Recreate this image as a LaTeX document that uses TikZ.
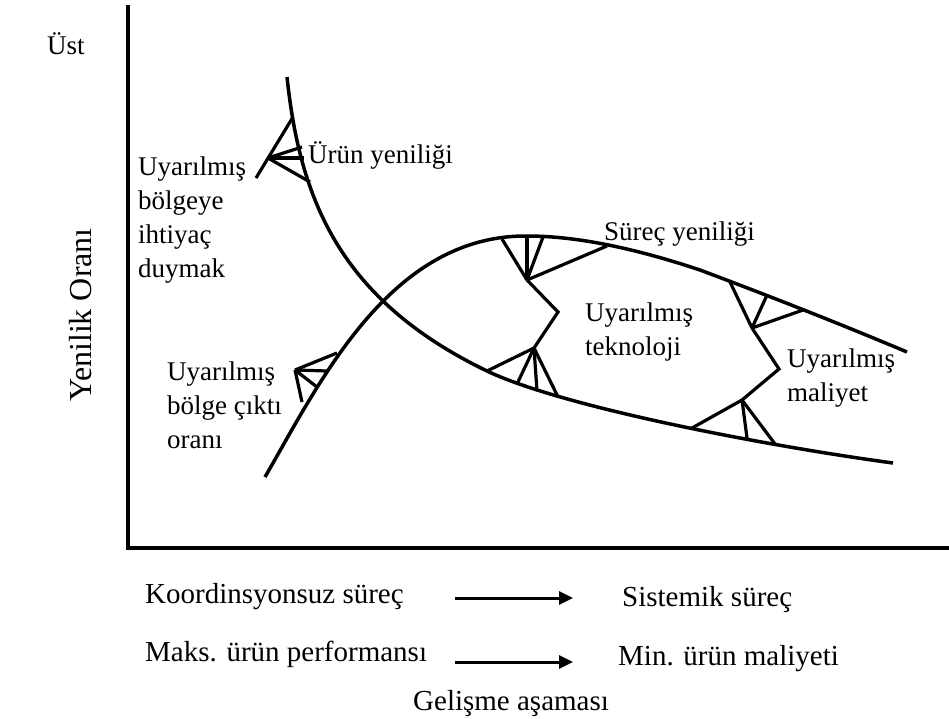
\documentclass[tikz,border=0pt]{standalone}
\usepackage{fontspec}
\setmainfont{Liberation Serif}
\usetikzlibrary{arrows.meta}
\begin{document}
\begin{tikzpicture}[x=1pt,y=-1pt,
  curve/.style={line width=3.5pt},
  axisline/.style={line width=4.5pt, line join=miter},
  tick/.style={line width=3.2pt},
  lbl/.style={font=\fontsize{27}{34}\selectfont, inner sep=0pt, align=left},
  blbl/.style={font=\fontsize{29}{34}\selectfont, inner sep=0pt},
  flow/.style={line width=3pt, -{Triangle[length=14pt,width=13pt]}}]
\useasboundingbox (0,0) rectangle (949,718);

% axes
\coordinate (ytop) at (128,5);
\coordinate (origin) at (128,548);
\coordinate (xend) at (949,548);
\draw[axisline] (ytop) -- (origin) -- (xend);

% curves
\coordinate (pc0) at (287,77);
\coordinate (pc1) at (487,371);
\coordinate (pc2) at (893,463);
\draw[curve] (pc0) .. controls (300,200) and (340,300) .. (pc1)
                   .. controls (560,406) and (760,445) .. (pc2);
\coordinate (sc0) at (265,477);
\coordinate (sc1) at (527,236);
\coordinate (sc2) at (700,270);
\coordinate (sc3) at (907,352);
\draw[curve] (sc0) .. controls (320,382) and (390,235) .. (sc1)
                   .. controls (580,236) and (640,250) .. (sc2)
                   .. controls (780,300) and (850,328) .. (sc3);

% mark 1 (product innovation)
\coordinate (A1) at (293,117);
\coordinate (E1) at (256,178);
\coordinate (P1) at (268,158);
\coordinate (A2) at (302,147);
\coordinate (A3) at (304,158);
\coordinate (A4) at (310,182);
\draw[tick] (A1) -- (E1);
\draw[tick] (P1) -- (A2);
\draw[tick] (P1) -- (A3);
\draw[tick] (P1) -- (A4);

% mark 2 (output rate)
\coordinate (P2) at (295,370);
\coordinate (B1) at (337,353);
\coordinate (B2) at (327,371);
\coordinate (B3) at (317,387);
\coordinate (S2) at (302,402);
\draw[tick] (P2) -- (B1);
\draw[tick] (P2) -- (B2);
\draw[tick] (P2) -- (B3);
\draw[tick] (P2) -- (S2);

% mark 3/4 (technology)
\coordinate (P3) at (527,280);
\coordinate (C1) at (502,239);
\coordinate (C2) at (527,236);
\coordinate (C3) at (543,237);
\coordinate (C4) at (607,246);
\coordinate (Z1) at (558,312);
\coordinate (P4) at (534,348);
\coordinate (D1) at (487,371);
\coordinate (D2) at (517,384);
\coordinate (D3) at (537,391);
\coordinate (D4) at (558,397);
\foreach \c in {C1,C2,C3,C4} \draw[tick] (P3) -- (\c);
\draw[tick] (P3) -- (Z1) -- (P4);
\foreach \c in {D1,D2,D3,D4} \draw[tick] (P4) -- (\c);

% mark 5/6 (cost)
\coordinate (P5) at (752,328);
\coordinate (F1) at (730,282);
\coordinate (F2) at (767,295);
\coordinate (F3) at (803,310);
\coordinate (Z2) at (779,369);
\coordinate (P6) at (742,400);
\coordinate (G1) at (692,428);
\coordinate (G2) at (747,438);
\coordinate (G3) at (775,444);
\foreach \c in {F1,F2,F3} \draw[tick] (P5) -- (\c);
\draw[tick] (P5) -- (Z2) -- (P6);
\foreach \c in {G1,G2,G3} \draw[tick] (P6) -- (\c);

% labels (base anchor = baseline of last line)
\node[lbl, anchor=base west] (ust) at (47,54) {Üst};
\node[lbl, font=\fontsize{32}{34}\selectfont, rotate=90, anchor=base] (yaxis) at (91,315) {Yenilik Oranı};
\node[lbl, anchor=base west] (need) at (138,277) {Uyarılmış\\bölgeye\\ihtiyaç\\duymak};
\node[lbl, anchor=base west] (prod) at (308,163) {Ürün yeniliği};
\node[lbl, anchor=base west] (proc) at (604,240) {Süreç yeniliği};
\node[lbl, anchor=base west] (tech) at (585,355) {Uyarılmış\\teknoloji};
\node[lbl, anchor=base west] (cost) at (787,401) {Uyarılmış\\maliyet};
\node[lbl, anchor=base west] (out) at (167,448) {Uyarılmış\\bölge çıktı\\oranı};

% bottom
\node[blbl, anchor=base west] (k1) at (145,603) {Koordinsyonsuz süreç};
\node[blbl, anchor=base west] (s1) at (622,606) {Sistemik süreç};
\node[blbl, anchor=base west] (m1) at (145,661) {Maks. ürün performansı};
\node[blbl, anchor=base west] (m2) at (618,665) {Min. ürün maliyeti};
\node[blbl, anchor=base west] (dev) at (413,710) {Gelişme aşaması};
\coordinate (a1s) at (455,598);
\coordinate (a1e) at (573,598);
\coordinate (a2s) at (455,662);
\coordinate (a2e) at (573,662);
\draw[flow] (a1s) -- (a1e);
\draw[flow] (a2s) -- (a2e);
\end{tikzpicture}
\end{document}
